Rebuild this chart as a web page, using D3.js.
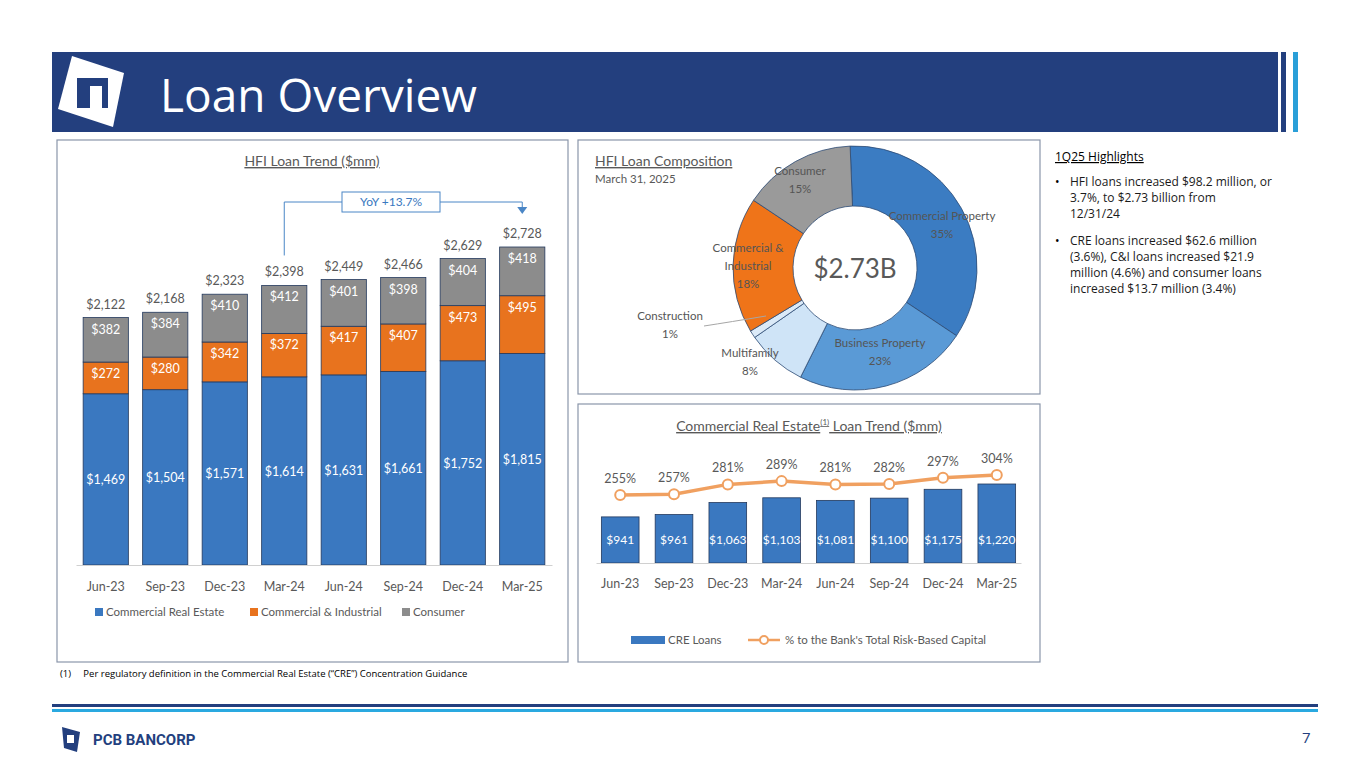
<!DOCTYPE html>
<html><head><meta charset="utf-8">
<script src="https://cdn.jsdelivr.net/npm/d3@7"></script>
<style>body{margin:0;background:#fff}svg{display:block;font-family:Lato,"Open Sans",sans-serif}</style>
</head><body><svg id="c" width="1365" height="768"></svg>
<script>
const quarters=["Jun-23","Sep-23","Dec-23","Mar-24","Jun-24","Sep-24","Dec-24","Mar-25"];
const cre=[1469,1504,1571,1614,1631,1661,1752,1815];
const ci=[272,280,342,372,417,407,473,495];
const consumer=[382,384,410,412,401,398,404,418];
const totals=[2122,2168,2323,2398,2449,2466,2629,2728];
const compLabels=[["Commercial Property"],["Business Property"],["Multifamily"],["Construction"],["Commercial &","Industrial"],["Consumer"]];
const compValues=[35,23,8,1,18,15];
const creLoans=[941,961,1063,1103,1081,1100,1175,1220];
const creRatio=[255,257,281,289,281,282,297,304];
const fmt=d3.format("$,");
const svg=d3.select("#c");
const BLUE="#3a78c0",ORANGE="#e8731e",GREY="#8c8c8c";

// header
svg.append("rect").attr("x",52).attr("y",52).attr("width",1226).attr("height",80).attr("fill","#233f7e");
svg.append("rect").attr("x",1281).attr("y",52).attr("width",5).attr("height",80).attr("fill","#233f7e");
svg.append("rect").attr("x",1293).attr("y",52).attr("width",5).attr("height",80).attr("fill","#2a9fd8");
svg.append("path").attr("d","M72,56 L124,73 L113,127 L58,109 Z").attr("fill","#fff");
svg.append("rect").attr("x",77).attr("y",78).attr("width",31).attr("height",30).attr("fill","#233f7e");
svg.append("rect").attr("x",90).attr("y",86).attr("width",12).attr("height",22).attr("fill","#fff");
svg.append("text").attr("x",160).attr("y",112).attr("fill","#fff").attr("font-size",46).attr("font-family","Open Sans").text("Loan Overview");

// panels
[[57,140,511,522],[578,140,462,254],[578,404,462,258]].forEach(p=>svg.append("rect").attr("x",p[0]).attr("y",p[1]).attr("width",p[2]).attr("height",p[3]).attr("fill","#fff").attr("stroke","#8a96aa").attr("stroke-width",1.2));

function ulText(x,y,t,anchor){return svg.append("text").attr("x",x).attr("y",y).attr("text-anchor",anchor).attr("font-size",14).attr("fill","#595959").attr("text-decoration","underline").text(t);}

// Chart 1
ulText(312,166,"HFI Loan Trend ($mm)","middle");
const x1=d3.scaleBand().domain(quarters).range([76,552]).paddingInner(0.24).paddingOuter(0.12);
const y1=d3.scaleLinear().domain([0,2728]).range([565,247]);
const stack=d3.stack().keys([0,1,2]).value((d,k)=>d[k])(quarters.map((q,i)=>[cre[i],ci[i],consumer[i]]));
const cols=[BLUE,ORANGE,GREY];
stack.forEach((layer,k)=>{
 layer.forEach((d,i)=>{
  const q=quarters[i];
  svg.append("rect").attr("x",x1(q)).attr("y",y1(d[1])).attr("width",x1.bandwidth()).attr("height",y1(d[0])-y1(d[1])).attr("fill",cols[k]).attr("stroke","#23395d").attr("stroke-width",0.8);
  const v=[cre,ci,consumer][k][i];
  const ly=k===0?(y1(d[0])+y1(d[1]))/2+5:y1(d[1])+16;
  svg.append("text").attr("x",x1(q)+x1.bandwidth()/2).attr("y",ly).attr("text-anchor","middle").attr("font-size",12.5).attr("fill","#fff").text(fmt(v));
 });
});
quarters.forEach((q,i)=>{
 svg.append("text").attr("x",x1(q)+x1.bandwidth()/2).attr("y",y1(totals[i])-9).attr("text-anchor","middle").attr("font-size",12.5).attr("fill","#595959").text(fmt(totals[i]));
});
svg.append("g").attr("transform","translate(0,565)").call(d3.axisBottom(x1).tickSize(0).tickPadding(17)).call(g=>{g.select(".domain").attr("stroke","#d0d0d0");g.selectAll("text").attr("font-size",12.5).attr("fill","#595959").attr("font-family","Lato");});
const xm=x1("Mar-24")+x1.bandwidth()/2,xe=x1("Mar-25")+x1.bandwidth()/2;
svg.append("path").attr("d",`M${xm},${y1(2398)-30} V202 H342 M440,202 H${xe} V210`).attr("fill","none").attr("stroke","#4a86c6").attr("stroke-width",1);
svg.append("path").attr("d",`M${xe-5},207 L${xe+5},207 L${xe},214 Z`).attr("fill","#4a86c6");
svg.append("rect").attr("x",342).attr("y",192).attr("width",98).attr("height",20).attr("fill","#fff").attr("stroke","#4a86c6");
svg.append("text").attr("x",391).attr("y",206).attr("text-anchor","middle").attr("font-size",12).attr("fill","#3a78c0").text("YoY +13.7%");
[["Commercial Real Estate",BLUE,95],["Commercial & Industrial",ORANGE,250],["Consumer",GREY,402]].forEach(l=>{
 svg.append("rect").attr("x",l[2]).attr("y",608).attr("width",8).attr("height",8).attr("fill",l[1]);
 svg.append("text").attr("x",l[2]+11).attr("y",616).attr("font-size",11.5).attr("fill","#595959").text(l[0]);
});

// Donut
ulText(595,166,"HFI Loan Composition","start");
svg.append("text").attr("x",595).attr("y",183).attr("font-size",11.5).attr("fill","#595959").text("March 31, 2025");
const cx=855,cy=268,R=122,r=62;
const pie=d3.pie().sort(null).startAngle(-0.04)(compValues);
const arc=d3.arc().innerRadius(r).outerRadius(R);
const dcols=["#3b7cc2","#5a9ad6","#cfe4f7","#dbeaf8","#ef7419","#9a9a9a"];
const dg=svg.append("g").attr("transform",`translate(${cx},${cy})`);
pie.forEach((p,i)=>dg.append("path").attr("d",arc(p)).attr("fill",dcols[i]).attr("stroke","#2c4a73").attr("stroke-width",0.8));
dg.append("text").attr("y",10).attr("text-anchor","middle").attr("font-size",26).attr("fill","#595959").text("$2.73B");
const lpos=[[915,220],[880,347],[750,357],[670,320],[748,252],[800,175]];
pie.forEach((p,i)=>{
 const [lx,ly]=lpos[i];const lines=compLabels[i].concat([compValues[i]+"%"]);
 lines.forEach((t,j)=>svg.append("text").attr("x",lx+(i===0?27:0)).attr("y",ly+j*18).attr("text-anchor","middle").attr("font-size",11.5).attr("fill","#555").text(t));
});
svg.append("path").attr("d","M704,326 Q730,322 766,316").attr("fill","none").attr("stroke","#a6a6a6");

// Chart 3
const t3=svg.append("text").attr("x",809).attr("y",431).attr("text-anchor","middle").attr("font-size",14).attr("fill","#595959").attr("text-decoration","underline");
t3.append("tspan").text("Commercial Real Estate");t3.append("tspan").attr("font-size",8).attr("dy",-6).text("(1)");t3.append("tspan").attr("dy",6).text(" Loan Trend ($mm)");
const x3=d3.scaleBand().domain(quarters).range([596,1021]).paddingInner(0.3).paddingOuter(0.1);
const y3=d3.scaleLinear().domain([550,1220]).range([563,484]);
const y3b=d3.scaleLinear().domain([255,304]).range([495,475]);
quarters.forEach((q,i)=>{
 const cxq=x3(q)+x3.bandwidth()/2;
 svg.append("rect").attr("x",x3(q)).attr("y",y3(creLoans[i])).attr("width",x3.bandwidth()).attr("height",563-y3(creLoans[i])).attr("fill",BLUE).attr("stroke","#23395d").attr("stroke-width",0.8);
 svg.append("text").attr("x",cxq).attr("y",544).attr("text-anchor","middle").attr("font-size",12).attr("fill","#fff").text(fmt(creLoans[i]));
 svg.append("text").attr("x",cxq).attr("y",y3b(creRatio[i])-12).attr("text-anchor","middle").attr("font-size",12.5).attr("fill","#595959").text(creRatio[i]+"%");
});
svg.append("g").attr("transform","translate(0,563)").call(d3.axisBottom(x3).tickSize(0).tickPadding(16)).call(g=>{g.select(".domain").attr("stroke","#d0d0d0");g.selectAll("text").attr("font-size",12.5).attr("fill","#595959").attr("font-family","Lato");});
const line=d3.line().x((d,i)=>x3(quarters[i])+x3.bandwidth()/2).y(d=>y3b(d));
svg.append("path").attr("d",line(creRatio)).attr("fill","none").attr("stroke","#f0a060").attr("stroke-width",3.5);
creRatio.forEach((d,i)=>svg.append("circle").attr("cx",x3(quarters[i])+x3.bandwidth()/2).attr("cy",y3b(d)).attr("r",5).attr("fill","#fff").attr("stroke","#f0a060").attr("stroke-width",2));
svg.append("rect").attr("x",631).attr("y",636).attr("width",34).attr("height",8).attr("fill",BLUE);
svg.append("text").attr("x",668).attr("y",644).attr("font-size",11.5).attr("fill","#595959").text("CRE Loans");
svg.append("line").attr("x1",748).attr("x2",780).attr("y1",640).attr("y2",640).attr("stroke","#f0a060").attr("stroke-width",2.5);
svg.append("circle").attr("cx",764).attr("cy",640).attr("r",4).attr("fill","#fff").attr("stroke","#f0a060").attr("stroke-width",2);
svg.append("text").attr("x",785).attr("y",644).attr("font-size",11.5).attr("fill","#595959").text("% to the Bank's Total Risk-Based Capital");

// Highlights
const hx=1055;
svg.append("text").attr("x",hx).attr("y",161).attr("font-size",12).attr("font-family","Open Sans").attr("fill","#000").attr("text-decoration","underline").text("1Q25 Highlights");
const bullets=[[186,["HFI loans increased $98.2 million, or","3.7%, to $2.73 billion from","12/31/24"]],[245,["CRE loans increased $62.6 million","(3.6%), C&I loans increased $21.9","million (4.6%) and consumer loans","increased $13.7 million (3.4%)"]]];
bullets.forEach(b=>{
 svg.append("text").attr("x",hx).attr("y",b[0]).attr("font-size",12).attr("font-family","Open Sans").text("•");
 b[1].forEach((t,j)=>svg.append("text").attr("x",hx+15).attr("y",b[0]+j*16).attr("font-size",12).attr("font-family","Open Sans").attr("fill","#1a1a1a").text(t));
});
svg.append("text").attr("x",60).attr("y",677).attr("font-size",9.5).attr("font-family","Open Sans").attr("xml:space","preserve").text("(1)     Per regulatory definition in the Commercial Real Estate (“CRE”) Concentration Guidance");

// footer
svg.append("rect").attr("x",52).attr("y",704).attr("width",1266).attr("height",3).attr("fill","#233f7e");
svg.append("rect").attr("x",52).attr("y",709).attr("width",1266).attr("height",3).attr("fill","#2aa9e0");
svg.append("path").attr("d","M62,727 L80,732 L77,752 L64,748 Z").attr("fill","#233f7e");
svg.append("rect").attr("x",67).attr("y",735).attr("width",7).attr("height",8).attr("fill","#fff");
svg.append("text").attr("x",93).attr("y",745).attr("font-size",15).attr("font-weight","bold").attr("font-family","Roboto").attr("fill","#233f7e").text("PCB BANCORP");
svg.append("text").attr("x",1302).attr("y",743).attr("font-size",15).attr("font-family","Open Sans").attr("fill","#233f7e").text("7");
</script></body></html>
